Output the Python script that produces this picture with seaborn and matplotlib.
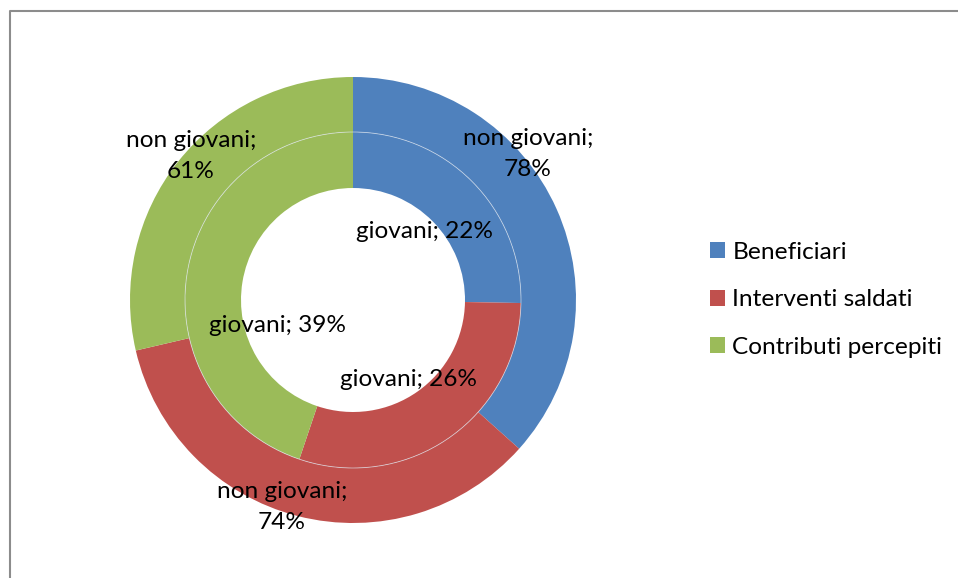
import matplotlib
matplotlib.use("Agg")
import matplotlib.pyplot as plt
import seaborn as sns
from matplotlib.patches import Patch
from matplotlib.lines import Line2D

categories = ["Beneficiari", "Interventi saldati", "Contributi percepiti"]
giovani = [22, 26, 39]
non_giovani = [78, 74, 61]
inner_labels = ["giovani; 22%", "giovani; 26%", "giovani; 39%"]
outer_labels = ["non giovani;\n78%", "non giovani;\n74%", "non giovani;\n61%"]
colors = ["#4F81BD", "#C0504D", "#9BBB59"]

sns.set_theme(style="white")
plt.rcParams['font.family'] = ['Lato', 'DejaVu Sans']
plt.rcParams['text.color'] = 'black'

W, H = 958, 578
fig = plt.figure(figsize=(W / 100, H / 100), dpi=100)
ax = fig.add_axes([0, 0, 1, 1])
ax.set_xlim(0, W)
ax.set_ylim(0, H)
ax.axis("off")

cx, cy = 353, H - 300
r_out, r_mid, r_in = 223, 168, 112

wedges_out, _ = ax.pie(non_giovani, radius=r_out, center=(cx, cy), colors=colors,
                       startangle=90, counterclock=False,
                       wedgeprops=dict(width=r_out - r_mid, edgecolor="none"))
wedges_in, _ = ax.pie(giovani, radius=r_mid, center=(cx, cy), colors=colors,
                      startangle=90, counterclock=False,
                      wedgeprops=dict(width=r_mid - r_in, edgecolor="none"))
# thin light separator between rings
circ = plt.Circle((cx, cy), r_mid, fill=False, edgecolor="#dfe6ef", lw=0.6, alpha=0.7)
ax.add_patch(circ)
ax.set_xlim(0, W)
ax.set_ylim(0, H)
ax.set_aspect("auto")

fs = 17.6
inner_pos = [(425, 231), (409, 379), (278, 326)]
outer_pos = [(528, 154), (282, 507), (191, 156)]
for lab, (x, y) in zip(inner_labels, inner_pos):
    ax.text(x, H - y, lab, ha="center", va="center", fontsize=fs, color="black")
for lab, (x, y) in zip(outer_labels, outer_pos):
    ax.text(x, H - y, lab, ha="center", va="center", fontsize=fs, color="black",
            linespacing=1.6)

handles = [Patch(facecolor=c, edgecolor="none") for c in colors]
leg = fig.legend(handles, categories, loc="upper left",
                 bbox_to_anchor=(710 / W, 1 - 242 / H), frameon=False,
                 fontsize=fs, handlelength=0.62, handleheight=0.62,
                 handletextpad=0.3, labelspacing=1.08, borderaxespad=0,
                 borderpad=0, labelcolor="black")

# chart border (top and left visible)
fig.add_artist(Line2D([9.5 / W, 9.5 / W, 1.0], [0, 1 - 10.5 / H, 1 - 10.5 / H],
                      transform=fig.transFigure, color="#8c8c8c", lw=1.5))

fig.savefig("out.png", dpi=100)
